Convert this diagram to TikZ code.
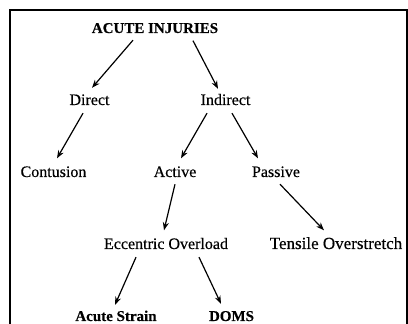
\documentclass[tikz,border=0pt]{standalone}
\usepackage{fontspec}
\setmainfont[FakeBold=0.4]{Liberation Serif}
\usetikzlibrary{arrows.meta}

\begin{document}
\begin{tikzpicture}[
    x=1pt, y=1pt,
    node distance=72pt,
    entry/.style={
        inner sep=0pt,
        text height=10.5pt,
        text depth=0pt,
        font=\fontsize{16}{19}\selectfont
    },
    keyentry/.style={
        entry,
        font=\fontsize{15}{18}\selectfont\bfseries
    },
    arrow/.style={
        ->,
        >={Stealth[length=8pt,width=6pt]},
        line width=1.2pt,
        black
    }
]
\useasboundingbox (0,0) rectangle (408,324);

% --- Frame (open at the bottom) ---
\draw[line width=1.6pt] (10,0) -- (10,314) -- (407,314) -- (407,0);

% --- Top level ---
\node[keyentry] (root) at (155,296.25) {ACUTE INJURIES};

% --- Second level ---
\node[entry, below of=root, xshift=-65.5pt] (direct) {Direct};
\node[entry, below of=root, xshift=70.5pt] (indirect) {Indirect};

\draw[arrow] ([xshift=-22pt,yshift=-7pt]root.south) -- ([xshift=2.5pt,yshift=6.5pt]direct.north);
\draw[arrow] ([xshift=38pt,yshift=-7.5pt]root.south) -- ([xshift=-7.5pt,yshift=5.5pt]indirect.north);

% --- Third level ---
\node[entry, below of=direct, xshift=-36pt] (contusion) {Contusion};
\node[entry, below of=indirect, xshift=-50.5pt] (active) {Active};
\node[entry, below of=indirect, xshift=50.5pt] (passive) {Passive};

\draw[arrow] ([xshift=-6.5pt,yshift=-8pt]direct.south) -- ([xshift=3.5pt,yshift=8pt]contusion.north);
\draw[arrow] ([xshift=-18.5pt,yshift=-8pt]indirect.south) -- ([xshift=6pt,yshift=8pt]active.north);
\draw[arrow] ([xshift=6.5pt,yshift=-8pt]indirect.south) -- ([xshift=-18pt,yshift=8pt]passive.north);

% --- Fourth level ---
\node[entry, below of=active, xshift=-9pt] (eccentric) {Eccentric Overload};
\node[entry, below of=passive, xshift=60pt, font=\fontsize{17}{20}\selectfont] (tensile) {Tensile Overstretch};

\draw[arrow] ([yshift=-7pt]active.south) -- ([xshift=-2pt,yshift=8pt]eccentric.north);
\draw[arrow] ([xshift=4pt,yshift=-7pt]passive.south) -- ([xshift=-12pt,yshift=8pt]tensile.north);

% --- Bottom level ---
\node[keyentry, below of=eccentric, xshift=-50pt] (strain) {Acute Strain};
\node[keyentry, below of=eccentric, xshift=65.5pt] (doms) {DOMS};

\draw[arrow] ([xshift=-30pt,yshift=-8pt]eccentric.south) -- ([xshift=-1pt,yshift=5.5pt]strain.north);
\draw[arrow] ([xshift=33pt,yshift=-8pt]eccentric.south) -- ([xshift=-10.5pt,yshift=6.5pt]doms.north);

\end{tikzpicture}
\end{document}
